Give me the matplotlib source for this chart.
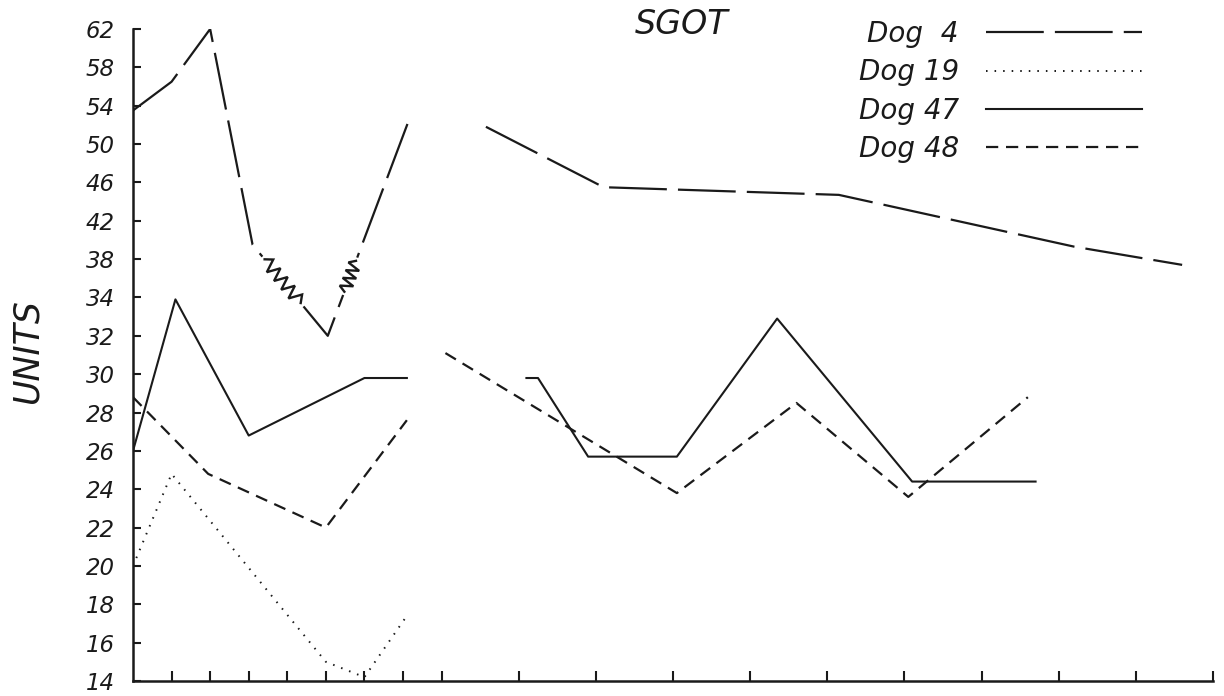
import numpy as np
import matplotlib
matplotlib.use("Agg")
import matplotlib.pyplot as plt
from matplotlib.transforms import IdentityTransform

# y axis is drawn with equal spacing per tick, though the step changes from 2 to 4
ytick_vals = [14, 16, 18, 20, 22, 24, 26, 28, 30, 32, 34, 38, 42, 46, 50, 54, 58, 62]
xtick_vals = [1, 2, 3, 4, 5, 6, 7, 8, 10, 12, 14, 16, 18, 20, 22, 24, 26, 28]

dog4_x1 = [0, 1, 2, 3.1, 5.05, 7.2]
dog4_y1 = [53.5, 56.5, 62, 39.5, 32, 53]
dog4_x2 = [9.15, 12.2, 18.3, 24.4, 27.2]
dog4_y2 = [51.8, 45.5, 44.7, 39.3, 37.4]

dog19_x = [0, 1, 5, 6, 7.1]
dog19_y = [20, 24.8, 15, 14.2, 17.4]

dog47_x1 = [0, 1.1, 3, 6, 7.1]
dog47_y1 = [26, 33.9, 26.8, 29.8, 29.8]
dog47_x2 = [10.2, 10.5, 11.8, 14.1, 16.7, 20.2, 23.4]
dog47_y2 = [29.8, 29.8, 25.7, 25.7, 32.9, 24.4, 24.4]

dog48_x1 = [0, 1.95, 5.0, 7.1]
dog48_y1 = [28.8, 24.8, 22, 27.6]
dog48_x2 = [8.1, 14.1, 17.2, 20.1, 23.2]
dog48_y2 = [31.1, 23.8, 28.5, 23.6, 28.8]

ink = "#1a1a1a"


def fwd(v):
    return np.interp(v, ytick_vals, np.arange(len(ytick_vals)))


def inv(i):
    return np.interp(i, np.arange(len(ytick_vals)), ytick_vals)


def zigzag(ax, p, q, f0, f1, teeth, amp):
    a = ax.transData.transform(p)
    b = ax.transData.transform(q)
    d = b - a
    n = np.array([-d[1], d[0]]) / np.hypot(*d)
    s = np.linspace(f0, f1, 2 * teeth + 1)
    off = amp * np.array([0] + [(-1) ** k for k in range(2 * teeth - 1)] + [0])
    pts = a + np.outer(s, d) + np.outer(off, n)
    base = a + np.outer([f0, f1], d)
    ax.plot(base[:, 0], base[:, 1], color="white", lw=5, transform=IdentityTransform(), zorder=3)
    ax.plot(pts[:, 0], pts[:, 1], color=ink, lw=1.7, transform=IdentityTransform(), zorder=4,
            solid_joinstyle="miter")


fig = plt.figure(figsize=(12.24, 6.96), dpi=100)
ax = fig.add_axes([133 / 1224, 1 - 681 / 696, (1213 - 133) / 1224, (681 - 29) / 696])
ax.set_yscale("function", functions=(fwd, inv))
ax.set_ylim(14, 62)
ax.set_xlim(0, 28)

long_dash = (26, 5)
short_dash = (5.5, 3.5)
dots = (0.8, 3.6)

l4, = ax.plot(dog4_x1, dog4_y1, color=ink, lw=1.6, dashes=long_dash, label="Dog  4")
ax.plot(dog4_x2, dog4_y2, color=ink, lw=1.6, dashes=long_dash)
l19, = ax.plot(dog19_x, dog19_y, color=ink, lw=1.4, dashes=dots, label="Dog 19")
l47, = ax.plot(dog47_x1, dog47_y1, color=ink, lw=1.5, label="Dog 47")
ax.plot(dog47_x2, dog47_y2, color=ink, lw=1.5)
l48, = ax.plot(dog48_x1, dog48_y1, color=ink, lw=1.6, dashes=short_dash, label="Dog 48")
ax.plot(dog48_x2, dog48_y2, color=ink, lw=1.6, dashes=short_dash)

# break marks on Dog 4
zigzag(ax, (dog4_x1[3], dog4_y1[3]), (dog4_x1[4], dog4_y1[4]), 0.16, 0.64, 5, 6.5)
zigzag(ax, (dog4_x1[4], dog4_y1[4]), (dog4_x1[5], dog4_y1[5]), 0.2, 0.34, 4, 6.5)

for side in ["top", "right"]:
    ax.spines[side].set_visible(False)
for side in ["left", "bottom"]:
    ax.spines[side].set_linewidth(1.8)
    ax.spines[side].set_color(ink)

ax.set_yticks(ytick_vals)
ax.set_yticklabels([str(v) for v in ytick_vals], fontsize=16.5, style="italic", color=ink)
ax.yaxis.set_minor_locator(plt.NullLocator())
ax.set_xticks(xtick_vals)
ax.set_xticklabels([])
ax.tick_params(axis="y", direction="in", length=6, width=1.5, pad=13, colors=ink)
ax.tick_params(axis="x", direction="in", length=7, width=1.5, colors=ink)

ax.set_ylabel("UNITS", fontsize=25, style="italic", color=ink)
ax.yaxis.set_label_coords((44 - 133) / 1080, (681 - 351) / 652)

fig.text(682 / 1224, 1 - 24 / 696, "SGOT", ha="center", va="center", fontsize=24,
         style="italic", color=ink)

ax.legend(handles=[l4, l19, l47, l48], loc="upper right", markerfirst=False,
          bbox_to_anchor=(1142 / 1224, 1 - 20 / 696), bbox_transform=fig.transFigure,
          frameon=False, borderpad=0, borderaxespad=0, handlelength=5.6,
          handletextpad=1.0, labelspacing=0.37,
          prop={"size": 20, "style": "italic"}, labelcolor=ink)

fig.savefig("out.png", dpi=100, facecolor="white")
